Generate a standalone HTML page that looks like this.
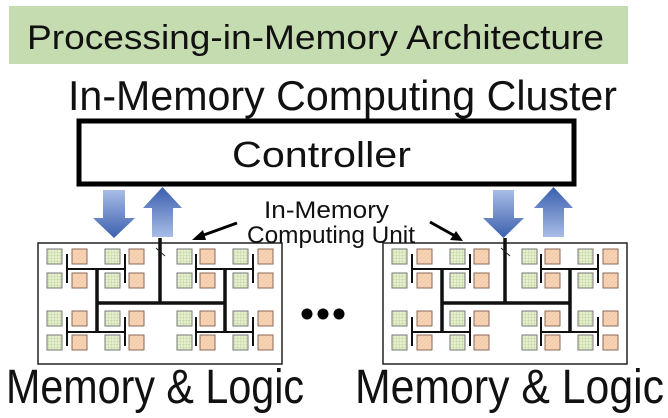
<!DOCTYPE html>
<html><head><style>html,body{margin:0;padding:0;background:#fff;}svg{display:block;}</style></head>
<body>
<svg width="668" height="418" viewBox="0 0 668 418" xmlns="http://www.w3.org/2000/svg" font-family="Liberation Sans, sans-serif">
<defs>
<pattern id="gp" width="3" height="3" patternUnits="userSpaceOnUse">
<rect width="3" height="3" fill="#e6efce"/><path d="M0 0H3M0 0V3" stroke="#b9cf95" stroke-width="0.8"/>
</pattern>
<pattern id="op" width="4" height="4" patternUnits="userSpaceOnUse">
<rect width="4" height="4" fill="#f7d3b5"/><path d="M0 4L4 0" stroke="#efc29e" stroke-width="0.6"/>
</pattern>
<linearGradient id="dn" x1="0" y1="0" x2="0" y2="1"><stop offset="0" stop-color="#a9bde6"/><stop offset="1" stop-color="#3a5fae"/></linearGradient>
<linearGradient id="up" x1="0" y1="1" x2="0" y2="0"><stop offset="0" stop-color="#a9bde6"/><stop offset="1" stop-color="#3a5fae"/></linearGradient>
<g id="row">
<rect x="47" y="0" width="15" height="15" fill="url(#gp)" stroke="#777" stroke-width="1"/>
<rect x="72" y="0" width="15" height="15" fill="url(#op)" stroke="#8a6a5a" stroke-width="1"/>
<rect x="105" y="0" width="15" height="15" fill="url(#gp)" stroke="#777" stroke-width="1"/>
<rect x="129" y="0" width="15" height="15" fill="url(#op)" stroke="#8a6a5a" stroke-width="1"/>
<rect x="177" y="0" width="15" height="15" fill="url(#gp)" stroke="#777" stroke-width="1"/>
<rect x="200" y="0" width="15" height="15" fill="url(#op)" stroke="#8a6a5a" stroke-width="1"/>
<rect x="233" y="0" width="15" height="15" fill="url(#gp)" stroke="#777" stroke-width="1"/>
<rect x="258" y="0" width="15" height="15" fill="url(#op)" stroke="#8a6a5a" stroke-width="1"/>
</g>
<g id="box">
<rect x="38" y="243" width="244" height="121" fill="#fff" stroke="#222" stroke-width="1.5"/>
<use href="#row" transform="translate(0,249)"/>
<use href="#row" transform="translate(0,273)"/>
<use href="#row" transform="translate(0,311)"/>
<use href="#row" transform="translate(0,335)"/>
<g stroke="#111" stroke-width="2" fill="none">
<path d="M67 254V283M125 254V283M67 269H125M196 254V283M253 254V283M196 269H253"/>
<path d="M67 317V346M125 317V346M67 332H125M196 317V346M253 317V346M196 332H253"/>
</g>
<g stroke="#111" stroke-width="3.5" fill="none">
<path d="M97 269V333M225 269V333M97 303H225M160 238V303"/>
</g>
<path d="M156 248L165 256" stroke="#222" stroke-width="1"/>
</g>
</defs>
<rect x="9" y="6" width="619" height="58" fill="#c5dbb0"/>
<text x="27" y="49" font-size="34" textLength="577" lengthAdjust="spacingAndGlyphs" fill="#111">Processing-in-Memory Architecture</text>
<text x="68" y="110" font-size="42" textLength="549" lengthAdjust="spacingAndGlyphs" fill="#111">In-Memory Computing Cluster</text>
<rect x="79" y="121" width="495" height="63" fill="#fff" stroke="#000" stroke-width="5"/>
<text x="232" y="167" font-size="36" textLength="179" lengthAdjust="spacingAndGlyphs" fill="#111">Controller</text>
<use href="#box"/>
<use href="#box" transform="translate(345,0)"/>
<path d="M103 190H125V218H135L114 238L93 218H103Z" fill="url(#dn)"/>
<path d="M152 237H173V208H182L162.5 187L143 208H152Z" fill="url(#up)"/>
<path d="M493 190H514V218H524L503.5 238L483 218H493Z" fill="url(#dn)"/>
<path d="M543 237H564V208H573L553.5 187L534 208H543Z" fill="url(#up)"/>
<text x="264" y="218" font-size="24" textLength="125" lengthAdjust="spacingAndGlyphs" fill="#111">In-Memory</text>
<text x="247" y="243" font-size="24" textLength="168" lengthAdjust="spacingAndGlyphs" fill="#111">Computing Unit</text>
<path d="M237 223L201 236" stroke="#000" stroke-width="3"/>
<path d="M192 240L203 230L206 240Z" fill="#000"/>
<path d="M430 222L455 236" stroke="#000" stroke-width="3"/>
<path d="M463 241L450 240L456 231Z" fill="#000"/>
<circle cx="307" cy="314" r="5.5" fill="#000"/>
<circle cx="323" cy="314" r="5.5" fill="#000"/>
<circle cx="339" cy="314" r="5.5" fill="#000"/>
<text x="6" y="403" font-size="48" textLength="298" lengthAdjust="spacingAndGlyphs" fill="#111">Memory &amp; Logic</text>
<text x="355" y="403" font-size="48" textLength="309" lengthAdjust="spacingAndGlyphs" fill="#111">Memory &amp; Logic</text>
</svg>
</body></html>
